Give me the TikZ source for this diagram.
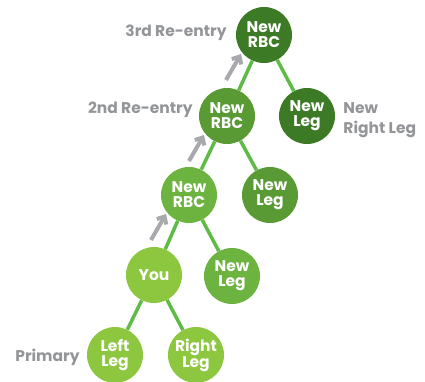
\documentclass[tikz,border=0pt]{standalone}
\usepackage{fontspec}
\setmainfont{Poppins}
\usepackage{tikz}
\usetikzlibrary{calc}
\usetikzlibrary{arrows.meta,shapes}
\usetikzlibrary{positioning}
\usepackage{xcolor}
\definecolor{gdark}{HTML}{3D7A26}
\definecolor{gmid}{HTML}{5A9A35}
\definecolor{glight}{HTML}{6DB33F}
\definecolor{glime}{HTML}{8DC63F}
\definecolor{gline}{HTML}{5DBB46}
\definecolor{gtext}{HTML}{939598}
\definecolor{garrow}{HTML}{A7A9AC}

\begin{document}
\begin{tikzpicture}[
    member/.style={circle,minimum size=56pt,inner sep=0pt,text=white,align=center,
      font=\bfseries\fontsize{15.5}{15}\selectfont},
    lbl/.style={text=gtext,font=\bfseries\fontsize{15.5}{16}\selectfont,inner sep=0pt},
    link/.style={gline,line width=3.5pt},
    reentry/.style={garrow,line width=4pt,-{Straight Barb[length=6pt,width=11pt]}}]
  \useasboundingbox (0,0) rectangle (425pt,-381pt);
  % tree
  \node[member,fill=gdark] (rbcc) at (264pt,-35pt) {New\\RBC};
  \node[member,fill=gdark,on grid,below right=81pt and 43pt of rbcc] (legc) {New\\Leg};
  \node[member,fill=gmid,on grid,below left=81pt and 37pt of rbcc] (rbcb) {New\\RBC};
  \node[member,fill=gmid,on grid,below right=79pt and 43pt of rbcb] (legb) {New\\Leg};
  \node[member,fill=glight,on grid,below left=79pt and 38pt of rbcb] (rbca) {New\\RBC};
  \node[member,fill=glight,on grid,below right=81pt and 43pt of rbca] (lega) {New\\Leg};
  \node[member,fill=glime,on grid,below left=80pt and 35pt of rbca] (you) {You};
  \node[member,fill=glime,on grid,below left=80pt and 39pt of you] (leftleg) {Left\\Leg};
  \node[member,fill=glime,on grid,below right=80pt and 42pt of you] (rightleg) {Right\\Leg};
  \foreach \a/\b in {rbcc/rbcb,rbcc/legc,rbcb/rbca,rbcb/legb,rbca/you,rbca/lega,you/leftleg,you/rightleg}
    \draw[link] (\a) -- (\b);
  % labels
  \node[lbl,left=9pt of rbcc,yshift=2pt] (third) {3rd Re-entry};
  \node[lbl,left=6pt of rbcb,yshift=6pt] (second) {2nd Re-entry};
  \node[lbl,left=7pt of leftleg,yshift=-2pt] (primary) {Primary};
  \node[lbl,right=8pt of legc,yshift=-4pt,align=left,font=\bfseries\fontsize{15.5}{20}\selectfont] (newright) {New\\Right Leg};
  % re-entry arrows
  \foreach \n in {rbcc,rbcb,rbca}
    \draw[reentry] ($(\n)+(-38pt,-45pt)$) -- ($(\n)+(-23pt,-19pt)$);
\end{tikzpicture}
\end{document}
